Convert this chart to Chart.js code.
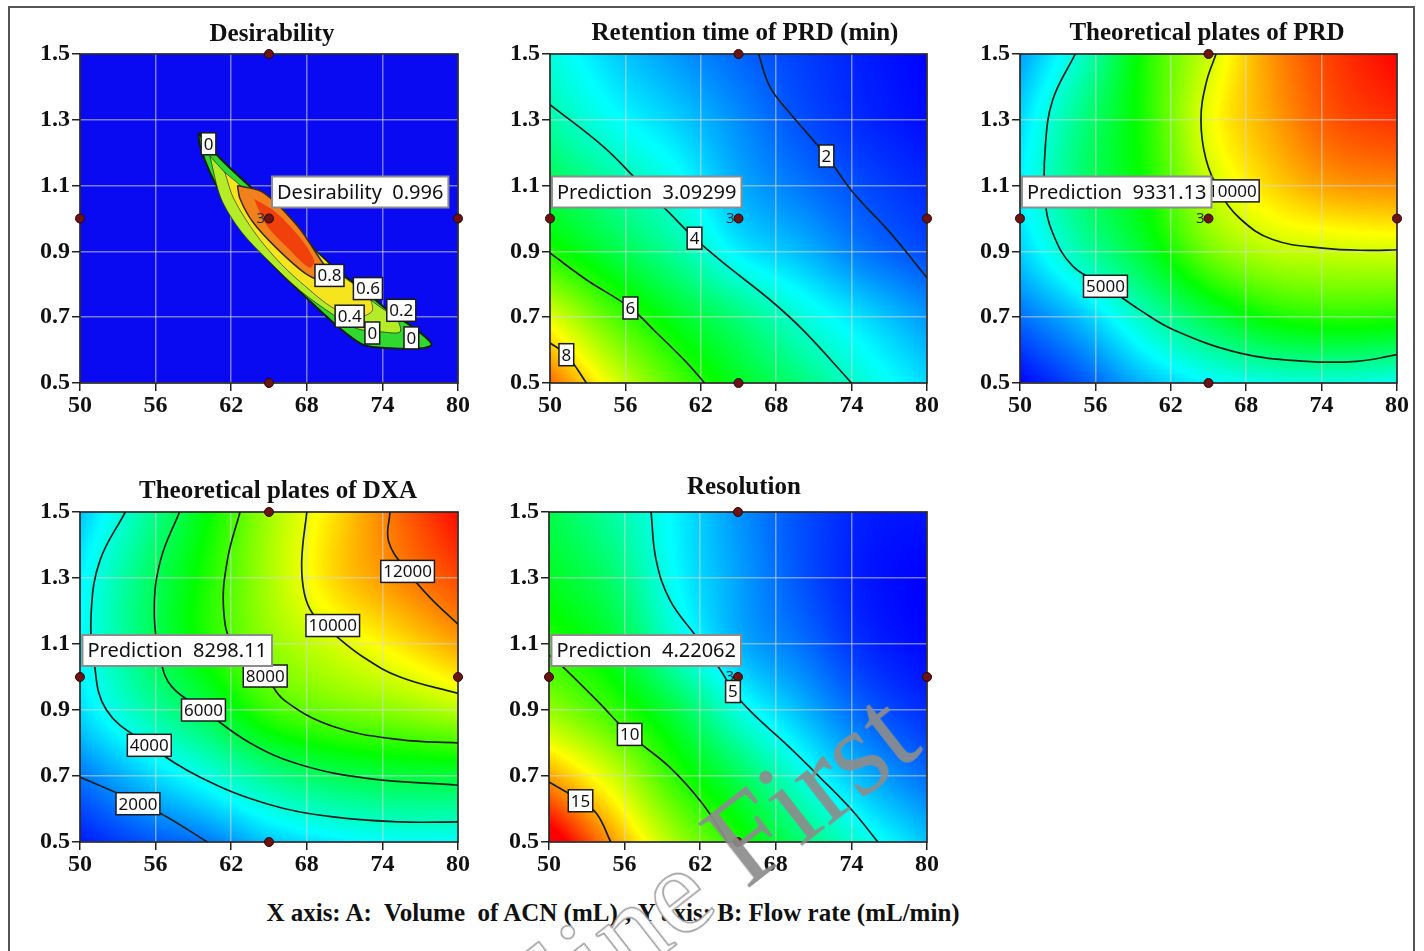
<!DOCTYPE html>
<html>
<head>
<meta charset="utf-8">
<title>Contour plots</title>
<script src="https://cdn.jsdelivr.net/npm/chart.js@4.4.1/dist/chart.umd.min.js"></script>
<style>
  body { margin: 0; background: #fff; }
  #page { position: relative; width: 1424px; height: 951px; overflow: hidden; font-family: "Liberation Serif", "Times New Roman", serif; }
  #frame { position: absolute; left: 8px; top: 6px; width: 1403px; height: 960px; border: 2px solid #555; border-bottom: none; }
  .panel { position: absolute; }
  .title { position: absolute; font-weight: bold; font-size: 25px; line-height: 1; white-space: nowrap; transform: translateX(-50%); color: #111; }
  #footer { position: absolute; left: 613px; top: 900px; transform: translateX(-50%); font-weight: bold; font-size: 25px; line-height: 1; white-space: pre; color: #111; }
  #mark { position: absolute; left: 392px; top: 1036px; font-size: 124px; line-height: 1; white-space: pre; transform-origin: 0 0; transform: rotate(-38deg); pointer-events: none; }
  #mark .o { color: #fff; -webkit-text-stroke: 1.5px #9a9a9a; }
  #mark .f { color: rgba(140, 140, 140, 0.92); }
</style>
</head>
<body>
<div id="page">
  <div id="frame"></div>
  <canvas id="c1" class="panel"></canvas>
  <canvas id="c2" class="panel"></canvas>
  <canvas id="c3" class="panel"></canvas>
  <canvas id="c4" class="panel"></canvas>
  <canvas id="c5" class="panel"></canvas>
  <div class="title" style="left:272px;top:20px">Desirability</div>
  <div class="title" style="left:745px;top:19px">Retention time of PRD (min)</div>
  <div class="title" style="left:1207px;top:19px">Theoretical plates of PRD</div>
  <div class="title" style="left:278px;top:477px">Theoretical plates of DXA</div>
  <div class="title" style="left:744px;top:473px">Resolution</div>
  <div id="footer">X axis: A:  Volume  of ACN (mL) ; Y axis: B: Flow rate (mL/min)</div>
  <div id="mark"><span class="o">Online </span><span class="f">First</span></div>
</div>
<script>
// axes
const xTicks = [50, 56, 62, 68, 74, 80];
const yTicks = [0.5, 0.7, 0.9, 1.1, 1.3, 1.5];

// design points (center point has 3 replicates)
const designX = [65, 50, 80, 65, 65];
const designY = [1.5, 1.0, 1.0, 0.5, 1.0];

// response grids: columns = gridX, rows = gridY (0.5 first)
const gridX = [50, 55, 60, 65, 70, 75, 80];
const gridY = [0.5, 0.7, 0.9, 1.1, 1.3, 1.5];

const retention = [
    [9.4, 7.8, 6.5, 5.5, 4.7, 3.85, 3.2],
    [7.8, 6.5, 5.5, 4.7, 3.85, 3.2, 2.6],
    [6.0, 5.2, 4.4, 3.4, 2.9, 2.3, 1.9],
    [5.1, 4.4, 3.7, 2.8, 2.3, 1.9, 1.6],
    [4.3, 3.6, 3.1, 2.5, 1.95, 1.6, 1.35],
    [3.8, 3.1, 2.6, 2.15, 1.8, 1.5, 1.25]
];
const platesPRD = [
    [1300, 2300, 3500, 4300, 4700, 4800, 4600],
    [2600, 3700, 5200, 6600, 7600, 7900, 7800],
    [3800, 5400, 6900, 8800, 9700, 9900, 10000],
    [4200, 6100, 7600, 9800, 11000, 11700, 11900],
    [3900, 5900, 7800, 10300, 11600, 12600, 13000],
    [3200, 5100, 7800, 9900, 11800, 12900, 13600]
];
const platesDXA = [
    [800, 1500, 2000, 3000, 3500, 3800, 3800],
    [2000, 3100, 4100, 5200, 5900, 6200, 6300],
    [3300, 4750, 6050, 7700, 8400, 8800, 9350],
    [3700, 5550, 7300, 8800, 9700, 10500, 11400],
    [3600, 5500, 7300, 9150, 10700, 11700, 12600],
    [3000, 4880, 6900, 9050, 10600, 12100, 13400]
];
const resolution = [
    [18.5, 15, 11.8, 9.5, 7.2, 5.3, 3.8],
    [14.8, 12.5, 9.7, 7.6, 5.3, 3.5, 2.3],
    [11.5, 9.9, 7.9, 5.3, 3.6, 2.1, 1.2],
    [9.7, 8.3, 5.6, 3.5, 2.4, 1.2, 0.6],
    [8.5, 7.2, 4.8, 3.2, 1.9, 0.9, 0.5],
    [7.8, 6.3, 4.6, 3.0, 1.8, 1.0, 0.8]
];

// desirability ridge (closed outlines)
const desOuterX = [59.4, 61.1, 64.0, 66.7, 68.8, 70.9, 73.0, 74.6, 76.2, 77.5, 77.9, 77.2, 74.6, 72.5, 70.6, 68.0, 65.3, 63.2, 61.7, 60.3, 59.5, 59.4];
const desOuterY = [1.26, 1.184, 1.08, 0.99, 0.898, 0.828, 0.767, 0.716, 0.676, 0.637, 0.616, 0.606, 0.606, 0.616, 0.667, 0.758, 0.859, 0.95, 1.04, 1.141, 1.223, 1.26];
const desMidX = [60.3, 62.5, 65.0, 67.5, 69.5, 71.5, 73.5, 75.2, 75.4, 74.0, 72.0, 70.0, 67.5, 65.0, 62.8, 61.2, 60.3];
const desMidY = [1.19, 1.10, 1.02, 0.93, 0.86, 0.80, 0.74, 0.69, 0.655, 0.655, 0.665, 0.71, 0.78, 0.87, 0.96, 1.06, 1.19];
const desYelX = [61.5, 64.0, 66.5, 69.0, 71.0, 72.8, 73.2, 72.0, 70.0, 68.0, 66.0, 64.0, 62.2, 61.5];
const desYelY = [1.14, 1.06, 0.98, 0.89, 0.82, 0.77, 0.72, 0.70, 0.73, 0.79, 0.86, 0.95, 1.06, 1.14];
const desCoreX = [62.5, 64.5, 67.2, 69.0, 69.8, 69.6, 68.0, 65.6, 63.7, 62.7, 62.5];
const desCoreY = [1.10, 1.08, 0.98, 0.88, 0.83, 0.807, 0.83, 0.91, 0.99, 1.06, 1.10];
const desPeakX = [63.8, 65.5, 67.5, 68.6, 68.2, 66.5, 64.8, 63.8];
const desPeakY = [1.06, 1.02, 0.94, 0.87, 0.85, 0.91, 0.98, 1.06];

// contour lines
const rt2X = [66.6, 67.5, 69.1, 72.0, 74.1, 77.0, 80.0];
const rt2Y = [1.5, 1.40, 1.32, 1.19, 1.08, 0.96, 0.82];
const rt4X = [50, 54.2, 56.9, 59.5, 61.5, 63.8, 67.5, 70.1, 74.0];
const rt4Y = [1.346, 1.22, 1.118, 1.017, 0.94, 0.865, 0.753, 0.662, 0.5];
const rt6X = [50, 52.9, 56.4, 58.5, 60.9, 62.3];
const rt6Y = [0.895, 0.814, 0.728, 0.652, 0.561, 0.5];
const rt8X = [50, 51.3, 52.9];
const rt8Y = [0.622, 0.586, 0.5];

const prd5000X = [54.4, 52.6, 52.0, 52.0, 52.6, 54.2, 56.8, 59.5, 62.2, 67.5, 72.8, 76.8, 80];
const prd5000Y = [1.5, 1.36, 1.21, 1.057, 0.956, 0.855, 0.794, 0.723, 0.662, 0.591, 0.566, 0.566, 0.586];
const prd10000X = [65.6, 64.8, 64.4, 64.8, 65.9, 67.5, 70.1, 74.1, 77.8, 80];
const prd10000Y = [1.5, 1.41, 1.30, 1.18, 1.08, 1.0, 0.936, 0.91, 0.903, 0.905];

const dxa2000X = [50, 54.6, 56.9, 60.1];
const dxa2000Y = [0.697, 0.62, 0.576, 0.5];
const dxa4000X = [53.6, 51.6, 50.9, 51.1, 52.1, 55.5, 59.5, 64.8, 70.1, 75.4, 80];
const dxa4000Y = [1.5, 1.355, 1.203, 1.052, 0.9, 0.793, 0.697, 0.616, 0.576, 0.561, 0.561];
const dxa6000X = [57.9, 56.4, 55.9, 56.4, 57.3, 59.8, 63.5, 67.5, 72.8, 80];
const dxa6000Y = [1.5, 1.355, 1.203, 1.052, 0.97, 0.9, 0.8, 0.734, 0.693, 0.672];
const dxa8000X = [62.7, 61.7, 61.4, 62.2, 64.7, 66.2, 70.1, 75.4, 80];
const dxa8000Y = [1.5, 1.355, 1.203, 1.09, 1.003, 0.93, 0.85, 0.81, 0.80];
const dxa10000X = [68.0, 67.6, 67.8, 68.5, 70.0, 72.5, 75.4, 80];
const dxa10000Y = [1.5, 1.355, 1.254, 1.19, 1.135, 1.06, 1.0, 0.95];
const dxa12000X = [74.6, 74.5, 76.0, 77.8, 80];
const dxa12000Y = [1.5, 1.41, 1.32, 1.24, 1.16];

const res5X = [58.1, 58.5, 59.6, 61.7, 63.8, 64.6, 66.2, 68.8, 71.5, 74.1, 76.1];
const res5Y = [1.5, 1.355, 1.233, 1.122, 1.01, 0.956, 0.888, 0.797, 0.696, 0.594, 0.5];
const res10X = [50, 51.1, 53.8, 56.4, 59.6, 62.2, 64.2];
const res10Y = [1.067, 1.031, 0.929, 0.826, 0.726, 0.615, 0.5];
const res15X = [50, 52.5, 53.8, 54.9];
const res15Y = [0.682, 0.625, 0.585, 0.5];

// contour labels
const desTags = ["0", "0.8", "0.6", "0.2", "0.4", "0", "0"];
const desTagX = [60.2, 69.8, 72.85, 75.5, 71.4, 73.2, 76.3];
const desTagY = [1.227, 0.827, 0.787, 0.721, 0.703, 0.652, 0.637];
const rtTags = ["2", "4", "6", "8"];
const rtTagX = [72.0, 61.5, 56.4, 51.3];
const rtTagY = [1.19, 0.94, 0.728, 0.586];
const prdTags = ["5000", "10000"];
const prdTagX = [56.8, 66.9];
const prdTagY = [0.794, 1.084];
const dxaTags = ["2000", "4000", "6000", "8000", "10000", "12000"];
const dxaTagX = [54.6, 55.5, 59.8, 64.7, 70.06, 76.0];
const dxaTagY = [0.616, 0.793, 0.9, 1.003, 1.156, 1.32];
const resTags = ["15", "10", "5"];
const resTagX = [52.5, 56.4, 64.6];
const resTagY = [0.625, 0.826, 0.956];

// predictions at the center point
const predX = 65;
const predY = 1.0;

const ramp = [[0, 0, 255], [0, 255, 255], [0, 255, 0], [255, 255, 0], [255, 0, 0]];

function rampColor(t) {
    t = Math.max(0, Math.min(1, t)) * 4;
    const i = Math.min(3, Math.floor(t));
    const f = t - i;
    const a = ramp[i], b = ramp[i + 1];
    return [a[0] + (b[0] - a[0]) * f, a[1] + (b[1] - a[1]) * f, a[2] + (b[2] - a[2]) * f];
}

function cell(vals, i, j) {
    const nx = gridX.length, ny = gridY.length;
    if (i < 0) return 2 * cell(vals, 0, j) - cell(vals, 1, j);
    if (i >= nx) return 2 * cell(vals, nx - 1, j) - cell(vals, nx - 2, j);
    if (j < 0) return 2 * cell(vals, i, 0) - cell(vals, i, 1);
    if (j >= ny) return 2 * cell(vals, i, ny - 1) - cell(vals, i, ny - 2);
    return vals[j][i];
}

function cr(p0, p1, p2, p3, t) {
    return p1 + 0.5 * t * (p2 - p0 + t * (2 * p0 - 5 * p1 + 4 * p2 - p3 + t * (3 * (p1 - p2) + p3 - p0)));
}

// smooth sample of a grid at (xv, yv)
function sample(vals, xv, yv) {
    const fx = (xv - gridX[0]) / (gridX[1] - gridX[0]);
    const fy = (yv - gridY[0]) / (gridY[1] - gridY[0]);
    const i = Math.max(0, Math.min(gridX.length - 2, Math.floor(fx)));
    const j = Math.max(0, Math.min(gridY.length - 2, Math.floor(fy)));
    const tx = fx - i, ty = fy - j;
    const r = [];
    for (let m = -1; m <= 2; m++) {
        r.push(cr(cell(vals, i - 1, j + m), cell(vals, i, j + m), cell(vals, i + 1, j + m), cell(vals, i + 2, j + m), tx));
    }
    return cr(r[0], r[1], r[2], r[3], ty);
}

function pts(xs, ys) {
    return xs.map((v, i) => ({ x: v, y: ys[i] }));
}

function contour(xs, ys) {
    return { data: pts(xs, ys), showLine: true, borderColor: "#14201e", borderWidth: 1.7, pointRadius: 0, tension: 0.4, fill: false, order: 5 };
}

function patch(xs, ys, color, edge, width, order) {
    return { data: pts(xs, ys), showLine: true, backgroundColor: color, borderColor: edge, borderWidth: width, pointRadius: 0, tension: 0.3, fill: "shape", order: order };
}

function designSet() {
    return { data: pts(designX, designY), showLine: false, pointRadius: 4.5, pointBackgroundColor: "#6a1414", pointBorderColor: "#2a0505", pointBorderWidth: 1, clip: false, order: 0 };
}

function makePanel(cfg) {
    const [L, T, R, B] = cfg.rect;
    const canvas = document.getElementById(cfg.id);
    canvas.width = R - L + 95;
    canvas.height = B - T + 54;
    canvas.style.left = (L - 75) + "px";
    canvas.style.top = (T - 12) + "px";

    const heat = {
        id: "heat",
        beforeDraw(chart) {
            const { ctx, chartArea: a, scales: { x, y } } = chart;
            const w = Math.round(a.right - a.left), h = Math.round(a.bottom - a.top);
            if (!cfg.values) {
                ctx.fillStyle = cfg.solid;
                ctx.fillRect(a.left, a.top, w, h);
                return;
            }
            const img = ctx.createImageData(w, h);
            for (let j = 0; j < h; j++) {
                const yv = y.getValueForPixel(a.top + j + 0.5);
                for (let i = 0; i < w; i++) {
                    const xv = x.getValueForPixel(a.left + i + 0.5);
                    const c = rampColor((sample(cfg.values, xv, yv) - cfg.min) / (cfg.max - cfg.min));
                    const k = (j * w + i) * 4;
                    img.data[k] = c[0];
                    img.data[k + 1] = c[1];
                    img.data[k + 2] = c[2];
                    img.data[k + 3] = 255;
                }
            }
            const off = document.createElement("canvas");
            off.width = w;
            off.height = h;
            off.getContext("2d").putImageData(img, 0, 0);
            ctx.drawImage(off, a.left, a.top);
        },
        beforeDatasetsDraw(chart) {
            const { ctx, chartArea: a } = chart;
            ctx.save();
            ctx.strokeStyle = "#1e1e1e";
            ctx.lineWidth = 1.6;
            ctx.strokeRect(a.left, a.top, a.right - a.left, a.bottom - a.top);
            ctx.restore();
        }
    };

    const tags = {
        id: "tags",
        afterDraw(chart) {
            const { ctx, scales: { x, y } } = chart;
            ctx.save();
            ctx.textBaseline = "middle";

            // center point replicate count
            const px = x.getPixelForValue(predX), py = y.getPixelForValue(predY);
            ctx.font = "15px 'Noto Sans'";
            ctx.fillStyle = "#1d3340";
            ctx.textAlign = "right";
            ctx.fillText("3", px - 4, py);

            ctx.font = "17px 'Noto Sans'";
            ctx.textAlign = "center";
            cfg.tags.forEach((t, i) => {
                const cx = x.getPixelForValue(cfg.tagX[i]), cy = y.getPixelForValue(cfg.tagY[i]);
                const w = ctx.measureText(t).width + 5, h = 22;
                ctx.fillStyle = "#fff";
                ctx.fillRect(cx - w / 2, cy - h / 2, w, h);
                ctx.strokeStyle = "#1a1a1a";
                ctx.lineWidth = 1.5;
                ctx.strokeRect(cx - w / 2, cy - h / 2, w, h);
                ctx.fillStyle = "#111";
                ctx.fillText(t, cx, cy + 1);
            });

            // prediction flag
            ctx.font = "20px 'Noto Sans'";
            const bw = ctx.measureText(cfg.pred).width + 10, bh = 31;
            const bx = cfg.predLeft ? px + 3 : px + 3 - bw;
            const by = py - 11 - bh;
            ctx.fillStyle = "#fff";
            ctx.fillRect(bx, by, bw, bh);
            ctx.strokeStyle = "#8c8c8c";
            ctx.lineWidth = 2;
            ctx.strokeRect(bx, by, bw, bh);
            ctx.fillStyle = "#111";
            ctx.textAlign = "left";
            ctx.fillText(cfg.pred, bx + 5, by + bh / 2 + 1);
            ctx.restore();
        }
    };

    const tickFont = { family: "Liberation Serif", size: 24, weight: "bold" };
    const grid = { color: "rgba(215, 215, 215, 0.55)", lineWidth: 1.5, tickColor: "#222", tickLength: 8, drawTicks: true };

    return new Chart(canvas, {
        type: "scatter",
        data: { datasets: cfg.datasets.concat([designSet()]) },
        options: {
            responsive: false,
            animation: false,
            events: [],
            layout: { padding: { left: 0, top: 12, right: 20, bottom: 0 } },
            plugins: { legend: { display: false }, tooltip: { enabled: false } },
            scales: {
                x: {
                    type: "linear", min: 50, max: 80,
                    grid: grid,
                    border: { display: false },
                    ticks: { font: tickFont, color: "#111", padding: 0, maxRotation: 0, callback: v => String(v) },
                    afterBuildTicks: s => { s.ticks = xTicks.map(v => ({ value: v })); },
                    afterFit: s => { s.height = 42; s.paddingLeft = 0; s.paddingRight = 0; }
                },
                y: {
                    type: "linear", min: 0.5, max: 1.5,
                    grid: grid,
                    border: { display: false },
                    ticks: { font: tickFont, color: "#111", padding: 2, callback: v => v.toFixed(1) },
                    afterBuildTicks: s => { s.ticks = yTicks.map(v => ({ value: v })); },
                    afterFit: s => { s.width = 75; s.paddingTop = 0; s.paddingBottom = 0; }
                }
            }
        },
        plugins: [heat, tags]
    });
}

makePanel({
    id: "c1", rect: [80, 54, 458, 383], solid: "#0a0af2",
    datasets: [
        patch(desPeakX, desPeakY, "#f0400c", "rgba(0,0,0,0)", 0, 6),
        patch(desCoreX, desCoreY, "#f2801c", "#3a2a10", 1.5, 7),
        patch(desYelX, desYelY, "#f5e41e", "rgba(40,60,20,0.7)", 1, 8),
        patch(desMidX, desMidY, "#b4ec28", "rgba(30,60,20,0.8)", 1, 9),
        patch(desOuterX, desOuterY, "#30d830", "#0d1f0d", 2, 10)
    ],
    tags: desTags, tagX: desTagX, tagY: desTagY,
    pred: "Desirability  0.996", predLeft: true
});

makePanel({
    id: "c2", rect: [550, 54, 927, 383], values: retention, min: 1.25, max: 10.3,
    datasets: [contour(rt2X, rt2Y), contour(rt4X, rt4Y), contour(rt6X, rt6Y), contour(rt8X, rt8Y)],
    tags: rtTags, tagX: rtTagX, tagY: rtTagY,
    pred: "Prediction  3.09299"
});

makePanel({
    id: "c3", rect: [1020, 54, 1397, 383], values: platesPRD, min: 1300, max: 13600,
    datasets: [contour(prd5000X, prd5000Y), contour(prd10000X, prd10000Y)],
    tags: prdTags, tagX: prdTagX, tagY: prdTagY,
    pred: "Prediction  9331.13"
});

makePanel({
    id: "c4", rect: [80, 512, 458, 842], values: platesDXA, min: 500, max: 13500,
    datasets: [
        contour(dxa2000X, dxa2000Y), contour(dxa4000X, dxa4000Y), contour(dxa6000X, dxa6000Y),
        contour(dxa8000X, dxa8000Y), contour(dxa10000X, dxa10000Y), contour(dxa12000X, dxa12000Y)
    ],
    tags: dxaTags, tagX: dxaTagX, tagY: dxaTagY,
    pred: "Prediction  8298.11"
});

makePanel({
    id: "c5", rect: [549, 512, 927, 842], values: resolution, min: 0.5, max: 17.5,
    datasets: [contour(res5X, res5Y), contour(res10X, res10Y), contour(res15X, res15Y)],
    tags: resTags, tagX: resTagX, tagY: resTagY,
    pred: "Prediction  4.22062"
});
</script>
</body>
</html>
